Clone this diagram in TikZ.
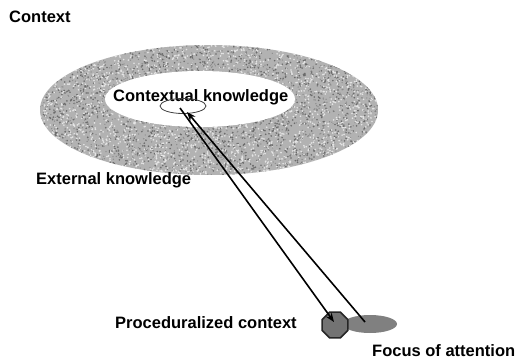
\documentclass[tikz,border=0pt]{standalone}
\usepackage{fontspec}
\setmainfont{Liberation Sans}
\usetikzlibrary{shapes.geometric,arrows.meta}
\begin{document}
\begin{tikzpicture}[x=1pt,y=-1pt,
  lbl/.style={font=\fontsize{16.5}{19}\selectfont\bfseries, inner sep=0pt, anchor=base west},
  conn/.style={line width=1.6pt, -{Stealth[length=9pt,width=7pt]}}]
\useasboundingbox (0,0) rectangle (516,358);
\fill[white] (0,0) rectangle (516,358);
% granite ring
\begin{scope}
\clip (209,110) ellipse [x radius=169, y radius=65];
\fill[black!30] (40,45) rectangle (378,175);
\pgfmathsetseed{42}
\fill[black!58] \foreach \i in {1,...,1900}{ ({209+169*rand},{110+65*rand}) circle[radius=0.9] };
\fill[black!10] \foreach \i in {1,...,2400}{ ({209+169*rand},{110+65*rand}) circle[radius=0.9] };
\fill[black!45] \foreach \i in {1,...,1500}{ ({209+169*rand},{110+65*rand}) circle[radius=0.7] };
\end{scope}
\node[ellipse, fill=white, minimum width=190pt, minimum height=56pt, inner sep=0pt] (inner) at (200,99) {};
% labels
\node[lbl] (ctx) at (9,23) {Context};
\node[lbl] (ext) at (36,185) {External knowledge};
\node[lbl] (ck) at (113,102) {Contextual knowledge};
\node[lbl] (proc) at (115,328) {Proceduralized context};
\node[lbl] (foc) at (372,356) {Focus of attention};
% small ellipse
\node[ellipse, draw=black!75, line width=0.8pt, minimum width=46pt, minimum height=15pt, inner sep=0pt] (small) at (183,106) {};
% focus and procedural context
\node[ellipse, fill=black!50, minimum width=54pt, minimum height=18pt, inner sep=0pt] (focus) at (370,324) {};
\node[regular polygon, regular polygon sides=8, minimum size=28pt, fill=black!55, draw=black!85, line width=1.6pt, inner sep=0pt] (oct) at (335,325) {};
% connectors
\coordinate (s1) at (180,108);
\coordinate (e1) at (334,322);
\coordinate (s2) at (365,322);
\coordinate (e2) at (187,112);
\draw[conn] (s1) -- (e1);
\draw[conn] (s2) -- (e2);
\end{tikzpicture}
\end{document}
